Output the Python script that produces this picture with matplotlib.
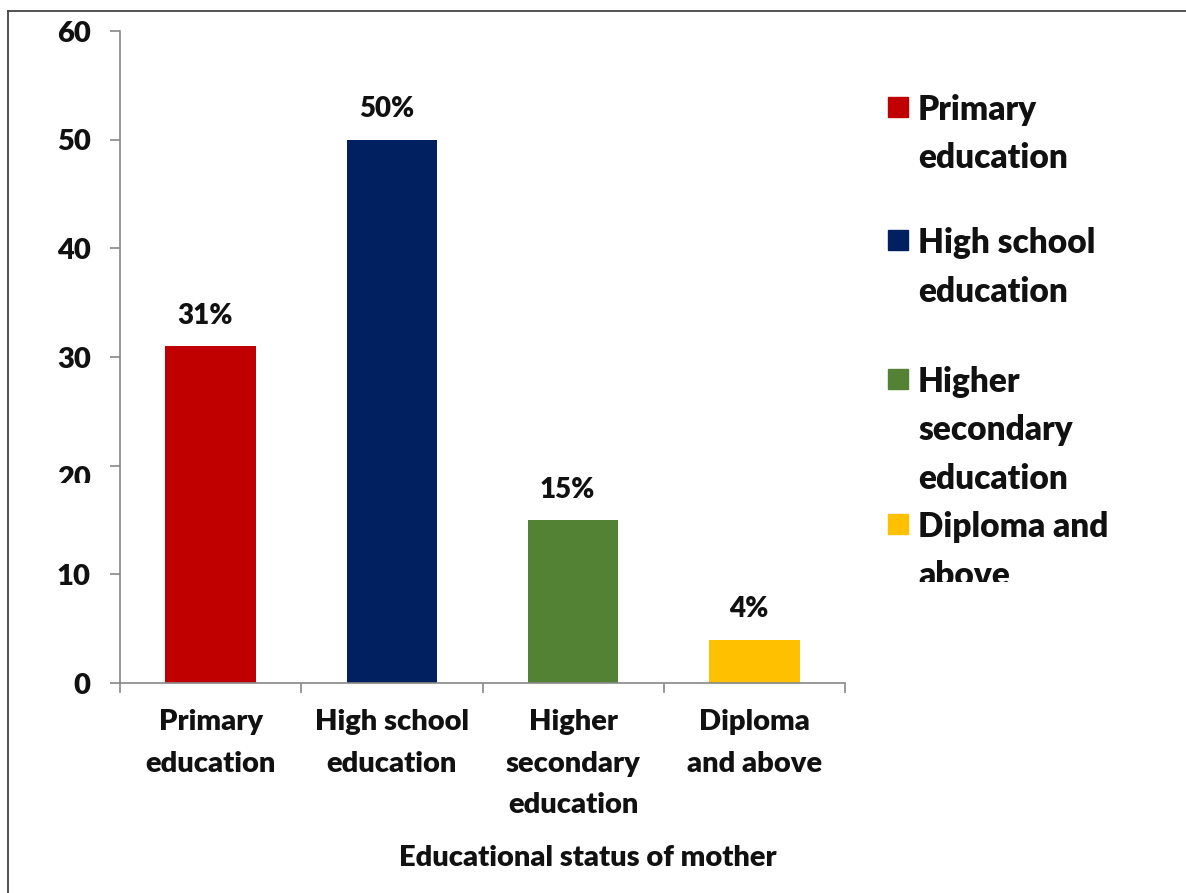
import matplotlib
matplotlib.use('Agg')
import matplotlib.pyplot as plt
from matplotlib.patches import Rectangle
from matplotlib.lines import Line2D
from matplotlib.transforms import Bbox, ScaledTranslation

# data
categories = ['Primary education', 'High school education',
              'Higher secondary education', 'Diploma and above']
tick_labels = ['Primary\neducation', 'High school\neducation',
               'Higher\nsecondary\neducation', 'Diploma\nand above']
legend_labels = ['Primary\neducation', 'High school\neducation',
                 'Higher\nsecondary\neducation', 'Diploma and\nabove']
percent = [31, 50, 15, 4]
colors = ['#C00000', '#002060', '#548235', '#FFC000']
yticks = [0, 10, 20, 30, 40, 50, 60]

W, H = 1186, 893
plt.rcParams['font.family'] = ['Lato', 'DejaVu Sans']
BOLD = 'heavy'
plt.rcParams['font.weight'] = BOLD
txt = '#111111'
grey = '#888888'

fig = plt.figure(figsize=(W/100, H/100), dpi=100)
ax = fig.add_axes([120/W, 1-683/H, (845-120)/W, (683-31)/H])

x = list(range(len(categories)))
bars = ax.bar(x, percent, width=0.5, color=colors)
ax.set_xlim(-0.5, len(categories)-0.5)
ax.set_ylim(0, 60)

for b, p in zip(bars, percent):
    ax.annotate('%d%%' % p, (b.get_x()+b.get_width()/2, b.get_height()),
                xytext=(-4, 16), textcoords='offset points', ha='center', va='baseline',
                fontsize=20, fontweight=BOLD, color=txt)

for s in ['top', 'right']:
    ax.spines[s].set_visible(False)
for s in ['left', 'bottom']:
    ax.spines[s].set_color(grey)
    ax.spines[s].set_linewidth(1.2)

ax.set_yticks(yticks)
ax.set_yticklabels([str(v) for v in yticks])
ax.tick_params(axis='y', length=7, width=1.2, color=grey, pad=14, labelsize=21, labelcolor=txt)
ax.set_xticks(x)
ax.set_xticklabels(tick_labels, linespacing=1.72)
ax.tick_params(axis='x', which='major', length=0, pad=19, labelsize=21, labelcolor=txt)
ax.set_xticks([i-0.5 for i in range(len(categories)+1)], minor=True)
ax.tick_params(axis='x', which='minor', length=7, width=1.2, color=grey)

# the "20" label is cut off in the original
lab20 = ax.get_yticklabels()[2]
lab20.set_transform(lab20.get_transform() + ScaledTranslation(0, -11/100, fig.dpi_scale_trans))
lab20.set_clip_on(True)
lab20.set_clip_box(Bbox([[0, H-483], [W, H]]))

ax.set_xlabel('Educational status of mother', fontsize=21, fontweight=BOLD, color=txt)
ax.xaxis.set_label_coords(588/W, 1-845/H, transform=fig.transFigure)

# legend drawn by hand to follow the uneven spacing
entry_y = [120, 253, 392, 537]
for lab, c, yb in zip(legend_labels, colors, entry_y):
    fig.patches.append(Rectangle((888/W, 1-(yb-3)/H), 20/W, 20/H,
                                 transform=fig.transFigure, color=c))
    for k, line in enumerate(lab.split('\n')):
        t = fig.text(918/W, 1-(yb+48.5*k)/H, line, fontsize=24, fontweight=BOLD,
                     color=txt, va='baseline', ha='left')
        t.set_clip_on(True)
        t.set_clip_box(Bbox([[0, H-582], [W, H]]))

# outer frame (left and top only visible)
fig.lines.append(Line2D([8/W, 8/W], [0, 1-11/H], transform=fig.transFigure, color='#444444', lw=1.3))
fig.lines.append(Line2D([8/W, 1], [1-11/H, 1-11/H], transform=fig.transFigure, color='#444444', lw=1.3))

fig.savefig('out.png', dpi=100)
